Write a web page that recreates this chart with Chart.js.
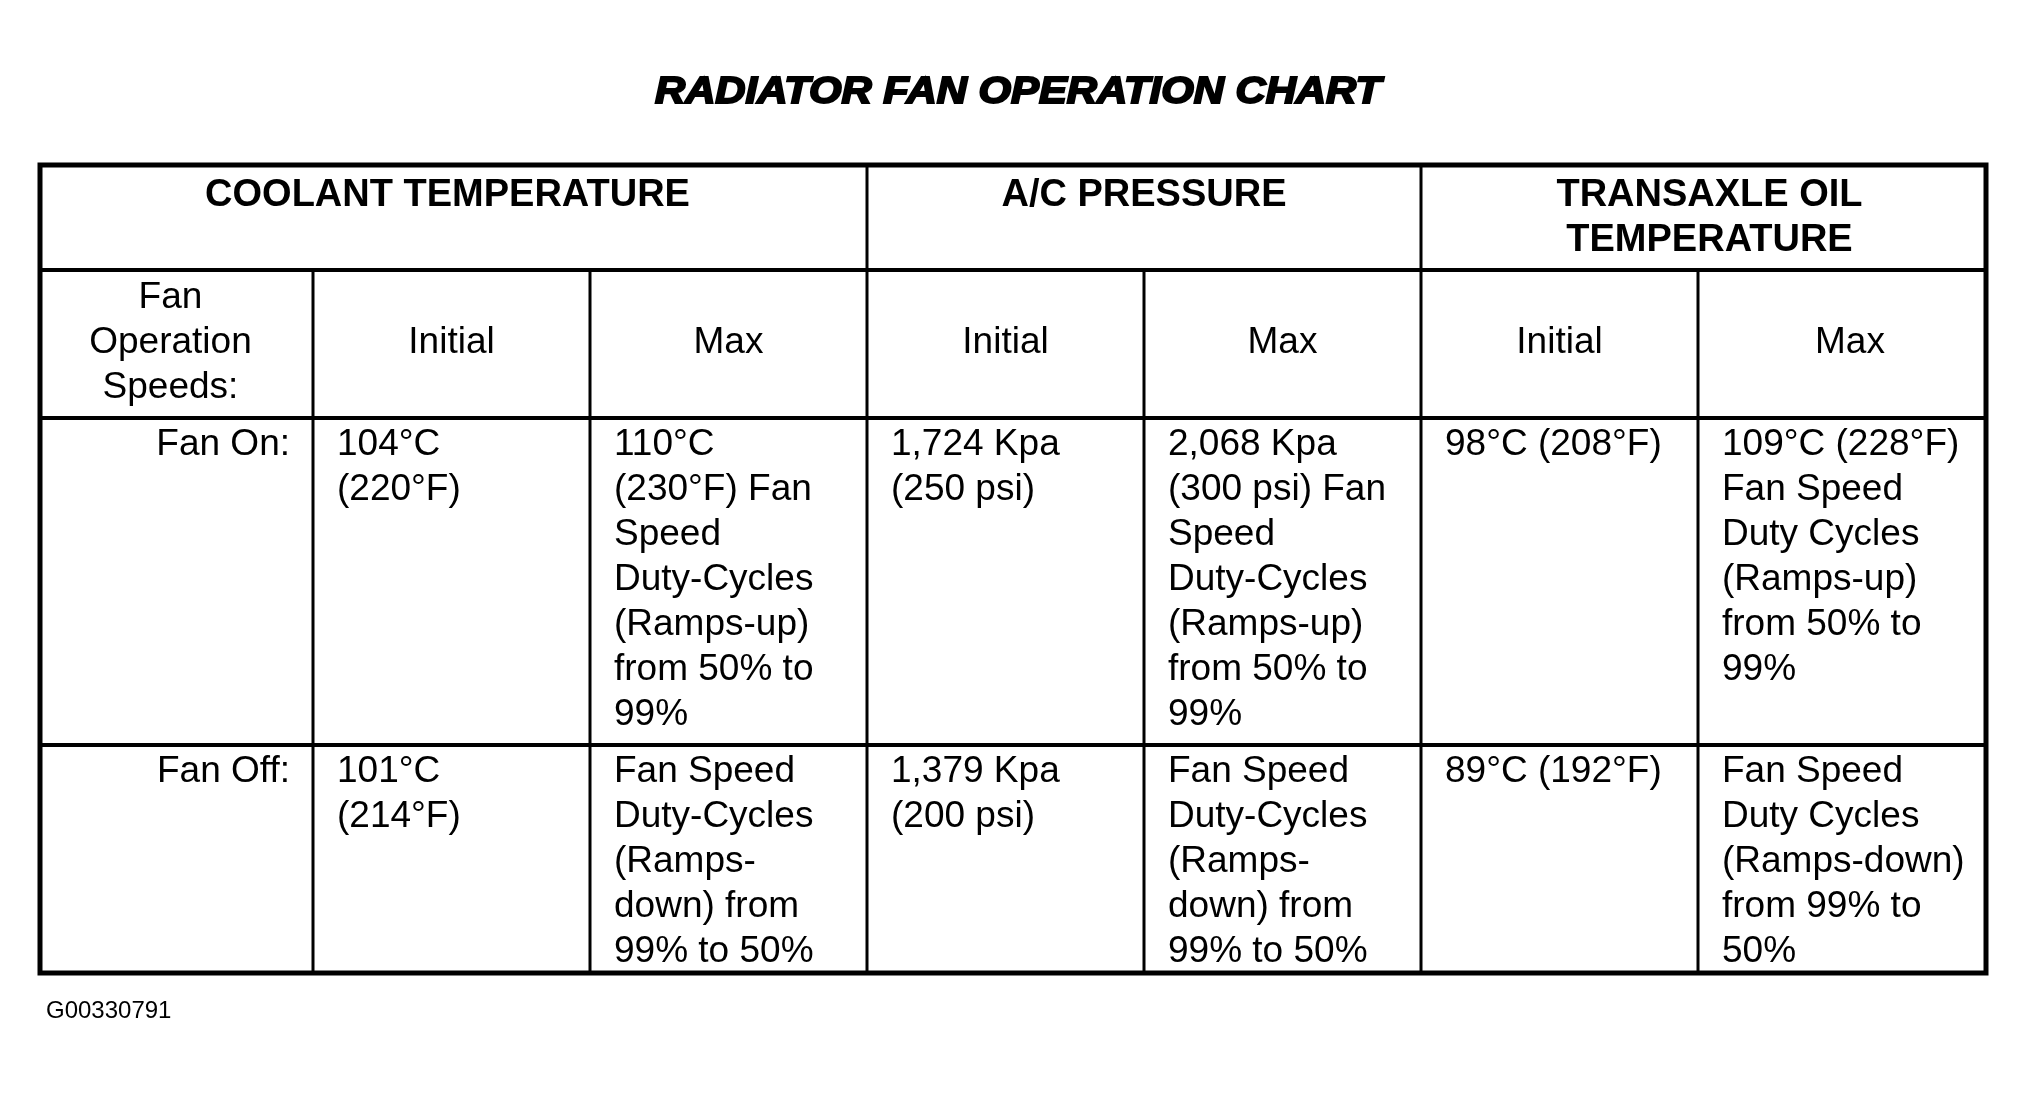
<!DOCTYPE html>
<html>
<head>
<meta charset="utf-8">
<title>Radiator Fan Operation Chart</title>
<script src="https://cdn.jsdelivr.net/npm/chart.js@4.4.1/dist/chart.umd.min.js"></script>
<style>
  html, body { margin: 0; padding: 0; background: #fff; }
  #wrap { width: 2029px; height: 1094px; }
</style>
</head>
<body>
<div id="wrap"><canvas id="chart"></canvas></div>
<script>
// table content
const chartTitle = 'RADIATOR FAN OPERATION CHART';
const figureId = 'G00330791';
const groupHeaders = [['COOLANT TEMPERATURE'], ['A/C PRESSURE'], ['TRANSAXLE OIL', 'TEMPERATURE']];
const subHeaders = [
    ['Fan', 'Operation', 'Speeds:'],
    ['Initial'], ['Max'],
    ['Initial'], ['Max'],
    ['Initial'], ['Max'],
];
const rowLabels = ['Fan On:', 'Fan Off:'];
const fanOnValues = [
    ['104°C', '(220°F)'],
    ['110°C', '(230°F) Fan', 'Speed', 'Duty-Cycles', '(Ramps-up)', 'from 50% to', '99%'],
    ['1,724 Kpa', '(250 psi)'],
    ['2,068 Kpa', '(300 psi) Fan', 'Speed', 'Duty-Cycles', '(Ramps-up)', 'from 50% to', '99%'],
    ['98°C (208°F)'],
    ['109°C (228°F)', 'Fan Speed', 'Duty Cycles', '(Ramps-up)', 'from 50% to', '99%'],
];
const fanOffValues = [
    ['101°C', '(214°F)'],
    ['Fan Speed', 'Duty-Cycles', '(Ramps-', 'down) from', '99% to 50%'],
    ['1,379 Kpa', '(200 psi)'],
    ['Fan Speed', 'Duty-Cycles', '(Ramps-', 'down) from', '99% to 50%'],
    ['89°C (192°F)'],
    ['Fan Speed', 'Duty Cycles', '(Ramps-down)', 'from 99% to', '50%'],
];

// layout, in scale units (the scales map 1 unit to 1 px)
const colEdges = [40, 313, 590, 867, 1144, 1421, 1698, 1986];
const groupSpans = [[0, 3], [3, 5], [5, 7]];
const rowEdges = [165, 270, 418, 745, 973];
const groupNudge = [-6, 0, 6];
const subNudge = [-6, 0, 0, 0, 0, 0, 8];
const LINE_H = 45;
const FONT = '"Liberation Sans", Arial, Helvetica, sans-serif';

const tablePlugin = {
    id: 'tablePlugin',
    afterDraw(chart) {
        const ctx = chart.ctx;
        const xs = chart.scales.x;
        const ys = chart.scales.y;
        const px = v => xs.getPixelForValue(v);
        const py = v => ys.getPixelForValue(v);

        const line = (x1, y1, x2, y2, w) => {
            ctx.beginPath();
            ctx.lineWidth = w;
            ctx.moveTo(px(x1), py(y1));
            ctx.lineTo(px(x2), py(y2));
            ctx.stroke();
        };

        ctx.save();
        ctx.strokeStyle = '#000';
        ctx.fillStyle = '#000';

        const left = colEdges[0];
        const right = colEdges[colEdges.length - 1];
        const top = rowEdges[0];
        const bottom = rowEdges[rowEdges.length - 1];

        // inner horizontal lines
        for (let i = 1; i < rowEdges.length - 1; i++) {
            line(left, rowEdges[i], right, rowEdges[i], 4);
        }
        // group dividers run full height, the rest start below the group row
        groupSpans.forEach(([a, b], gi) => {
            if (gi > 0) line(colEdges[a], top, colEdges[a], bottom, 3);
        });
        [1, 2, 4, 6].forEach(c => line(colEdges[c], rowEdges[1], colEdges[c], bottom, 3));

        // outer border
        ctx.lineWidth = 5;
        ctx.strokeRect(px(left), py(top), px(right) - px(left), py(bottom) - py(top));

        // title, stretched to the width of the heavy original face
        ctx.font = 'italic bold 37px ' + FONT;
        ctx.textAlign = 'center';
        ctx.textBaseline = 'alphabetic';
        const tw = ctx.measureText(chartTitle).width;
        const sx = (px(1381) - px(655)) / tw;
        ctx.save();
        ctx.translate(px(1018), py(103));
        ctx.scale(sx, 1);
        ctx.lineWidth = 2;
        ctx.fillText(chartTitle, 0, 0);
        ctx.strokeText(chartTitle, 0, 0);
        ctx.restore();

        // group headers
        ctx.font = 'bold 38px ' + FONT;
        ctx.textBaseline = 'middle';
        groupHeaders.forEach((lines, gi) => {
            const [a, b] = groupSpans[gi];
            const cx = (colEdges[a] + colEdges[b]) / 2 + groupNudge[gi];
            lines.forEach((t, li) => ctx.fillText(t, px(cx), py(196 + li * 45)));
        });

        // sub headers, centred in their cells
        ctx.font = '37px ' + FONT;
        const midSub = (rowEdges[1] + rowEdges[2]) / 2 - 1;
        subHeaders.forEach((lines, ci) => {
            const cx = (colEdges[ci] + colEdges[ci + 1]) / 2 + subNudge[ci];
            const y0 = midSub - (lines.length - 1) * LINE_H / 2;
            lines.forEach((t, li) => ctx.fillText(t, px(cx), py(y0 + li * LINE_H)));
        });

        // data rows
        [fanOnValues, fanOffValues].forEach((cells, ri) => {
            const rowTop = rowEdges[ri + 2];
            ctx.textAlign = 'right';
            ctx.fillText(rowLabels[ri], px(colEdges[1] - 23), py(rowTop + 27));
            ctx.textAlign = 'left';
            cells.forEach((lines, ci) => {
                const x = colEdges[ci + 1] + 24;
                lines.forEach((t, li) => ctx.fillText(t, px(x), py(rowTop + 27 + li * LINE_H)));
            });
        });

        // figure id
        ctx.font = '24px ' + FONT;
        ctx.textAlign = 'left';
        ctx.textBaseline = 'alphabetic';
        ctx.fillText(figureId, px(46), py(1018));

        ctx.restore();
    },
};

new Chart(document.getElementById('chart'), {
    type: 'scatter',
    data: { datasets: [{ data: [] }] },
    options: {
        responsive: true,
        maintainAspectRatio: false,
        animation: false,
        layout: { padding: 0 },
        plugins: {
            legend: { display: false },
            tooltip: { enabled: false },
        },
        scales: {
            x: { type: 'linear', min: 0, max: 2029, display: false },
            y: { type: 'linear', min: 0, max: 1094, reverse: true, display: false },
        },
    },
    plugins: [tablePlugin],
});
</script>
</body>
</html>
